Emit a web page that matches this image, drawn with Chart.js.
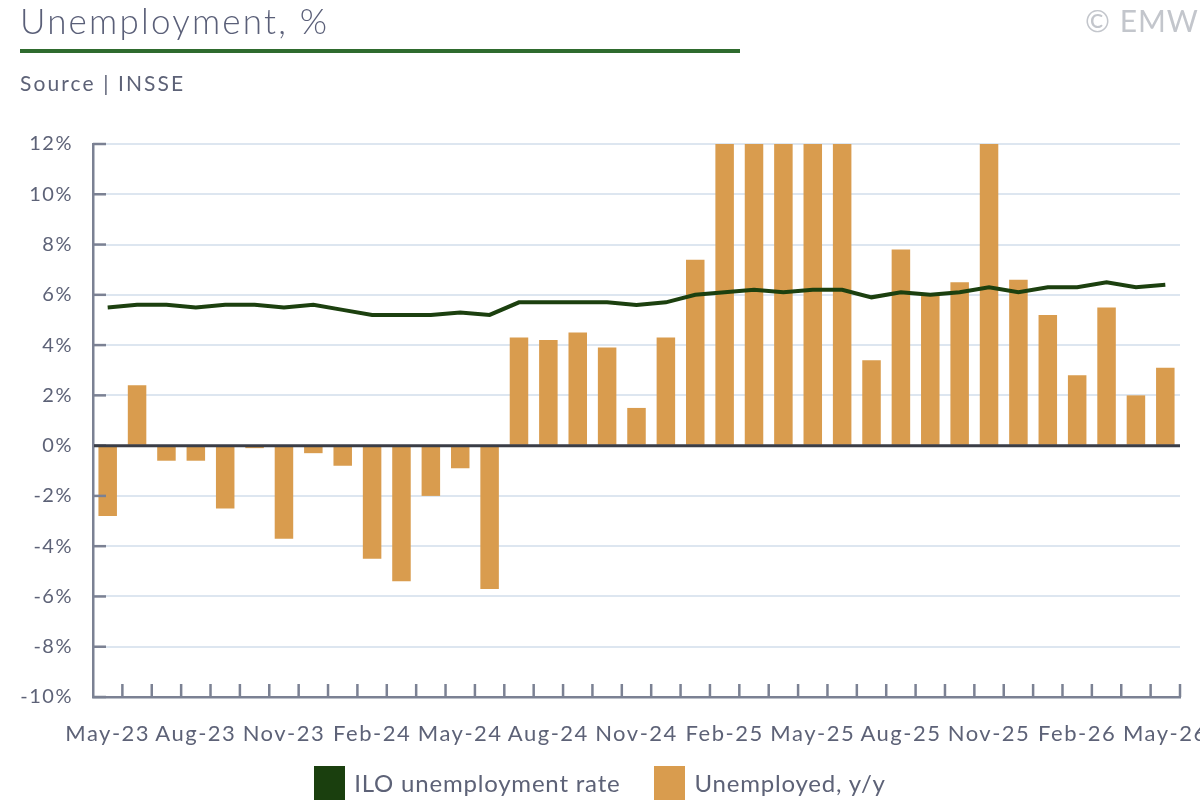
<!DOCTYPE html>
<html>
<head>
<meta charset="utf-8">
<script src="https://cdn.jsdelivr.net/npm/chart.js@4.4.1/dist/chart.umd.min.js"></script>
<style>
  body { margin: 0; background: #fff; font-family: 'Lato', sans-serif; }
  #wrap { position: relative; width: 1200px; height: 800px; overflow: hidden; }
  #chart { position: absolute; left: 0; top: 0; }
  #title { position: absolute; left: 20px; top: 3px; font-size: 35px; line-height: 35px; color: #5a5f78; font-weight: 300; letter-spacing: 2.2px; white-space: nowrap; }
  #rule { position: absolute; left: 20px; top: 49px; width: 720px; height: 4px; background: #2f6b2e; }
  #source { position: absolute; left: 20px; top: 72px; font-size: 21px; line-height: 21px; color: #5d6277; letter-spacing: 2.1px; }
  #emw { position: absolute; left: 1085px; top: 5px; font-size: 30px; line-height: 30px; color: #c3c6cc; white-space: nowrap; letter-spacing: 1px; }
  #legend { position: absolute; left: 0; top: 766px; width: 1200px; display: flex; justify-content: center; }
  .item { display: flex; align-items: flex-start; margin: 0 17px; }
  .box { width: 31px; height: 34px; margin-right: 9px; }
  .lbl { font-size: 24px; line-height: 34px; color: #5d6277; white-space: nowrap; letter-spacing: 0.8px; }
</style>
</head>
<body>
<div id="wrap">
  <canvas id="chart" width="1200" height="800"></canvas>
  <div id="title">Unemployment, %</div>
  <div id="rule"></div>
  <div id="source">Source | INSSE</div>
  <div id="emw">© EMW</div>
  <div id="legend"></div>
</div>
<script>
// months May-23 .. May-26
const months = ['May-23', 'Jun-23', 'Jul-23', 'Aug-23', 'Sep-23', 'Oct-23', 'Nov-23', 'Dec-23',
  'Jan-24', 'Feb-24', 'Mar-24', 'Apr-24', 'May-24', 'Jun-24', 'Jul-24', 'Aug-24', 'Sep-24', 'Oct-24',
  'Nov-24', 'Dec-24', 'Jan-25', 'Feb-25', 'Mar-25', 'Apr-25', 'May-25', 'Jun-25', 'Jul-25', 'Aug-25',
  'Sep-25', 'Oct-25', 'Nov-25', 'Dec-25', 'Jan-26', 'Feb-26', 'Mar-26', 'Apr-26', 'May-26'];

// ILO unemployment rate, %
const iloRate = [5.5, 5.6, 5.6, 5.5, 5.6, 5.6, 5.5, 5.6, 5.4, 5.2, 5.2, 5.2, 5.3, 5.2,
  5.7, 5.7, 5.7, 5.7, 5.6, 5.7, 6.0, 6.1, 6.2, 6.1, 6.2, 6.2, 5.9, 6.1, 6.0, 6.1,
  6.3, 6.1, 6.3, 6.3, 6.5, 6.3, 6.4];

// Unemployed, y/y % (bars above 12% run off the top of the chart)
const unemployedYoY = [-2.8, 2.4, -0.6, -0.6, -2.5, -0.1, -3.7, -0.3, -0.8, -4.5, -5.4, -2.0, -0.9, -5.7,
  4.3, 4.2, 4.5, 3.9, 1.5, 4.3, 7.4, 13, 13, 13, 13, 13, 3.4, 7.8, 6.0, 6.5,
  13, 6.6, 5.2, 2.8, 5.5, 2.0, 3.1];

const yTicks = { min: -10, max: 12, step: 2 };

const textColor = '#5d6277';
const axisColor = '#7b8193';

// wider letter spacing for the canvas labels
const spacing = {
  id: 'spacing',
  beforeDraw(chart) { chart.ctx.letterSpacing = '1.5px'; }
};

// inward tick marks + zero line, drawn over the bars
const axisMarks = {
  id: 'axisMarks',
  afterDatasetsDraw(chart) {
    const { ctx, chartArea, scales } = chart;
    const x = scales.x, y = scales.y;
    ctx.save();
    ctx.strokeStyle = axisColor;
    ctx.lineWidth = 2.5;
    y.ticks.forEach(t => {
      const py = y.getPixelForValue(t.value);
      ctx.beginPath();
      ctx.moveTo(chartArea.left, py);
      ctx.lineTo(chartArea.left + 13, py);
      ctx.stroke();
    });
    const step = (chartArea.right - chartArea.left) / months.length;
    for (let i = 1; i <= months.length; i++) {
      const px = chartArea.left + i * step;
      ctx.beginPath();
      ctx.moveTo(px, chartArea.bottom);
      ctx.lineTo(px, chartArea.bottom - 13);
      ctx.stroke();
    }
    const y0 = y.getPixelForValue(0);
    ctx.strokeStyle = '#3a3d46';
    ctx.lineWidth = 3;
    ctx.beginPath();
    ctx.moveTo(chartArea.left + 1, y0);
    ctx.lineTo(chartArea.right, y0);
    ctx.stroke();
    ctx.restore();
  }
};

const ctx = document.getElementById('chart').getContext('2d');
const myChart = new Chart(ctx, {
  type: 'bar',
  data: {
    labels: months,
    datasets: [{
      type: 'line',
      label: 'ILO unemployment rate',
      data: iloRate,
      borderColor: '#1c400f',
      backgroundColor: '#1a3f0e',
      borderWidth: 4,
      pointRadius: 0,
      tension: 0,
      order: 0
    }, {
      type: 'bar',
      label: 'Unemployed, y/y',
      data: unemployedYoY,
      backgroundColor: '#d99c4e',
      barPercentage: 0.63,
      categoryPercentage: 1.0,
      order: 1
    }]
  },
  options: {
    responsive: false,
    animation: false,
    layout: { padding: { top: 144, right: 20, left: 0, bottom: 0 } },
    plugins: {
      legend: { display: false },
      tooltip: { enabled: false }
    },
    scales: {
      x: {
        grid: { display: false, drawTicks: false },
        border: { display: true, color: axisColor, width: 2.5 },
        ticks: {
          autoSkip: false,
          maxRotation: 0,
          padding: 24,
          color: textColor,
          font: { family: 'Lato', size: 22 },
          callback: (v, i) => (i % 3 === 0 ? months[i] : '')
        },
        afterFit(scale) {
          scale.height = 103;
          scale.paddingLeft = 0;
          scale.paddingRight = 0;
        }
      },
      y: {
        min: yTicks.min,
        max: yTicks.max,
        grid: { color: '#dde6f0', lineWidth: 2, drawTicks: false },
        border: { display: true, color: axisColor, width: 2.5 },
        ticks: {
          stepSize: yTicks.step,
          padding: 20,
          color: textColor,
          font: { family: 'Lato', size: 20 },
          callback: v => v + '%'
        },
        afterFit(scale) { scale.width = 93; }
      }
    }
  },
  plugins: [spacing, axisMarks]
});

// html legend from the datasets
const legendEl = document.getElementById('legend');
myChart.data.datasets.forEach(ds => {
  const item = document.createElement('div');
  item.className = 'item';
  const box = document.createElement('div');
  box.className = 'box';
  box.style.background = ds.backgroundColor;
  const lbl = document.createElement('div');
  lbl.className = 'lbl';
  lbl.textContent = ds.label;
  item.appendChild(box);
  item.appendChild(lbl);
  legendEl.appendChild(item);
});
</script>
</body>
</html>
